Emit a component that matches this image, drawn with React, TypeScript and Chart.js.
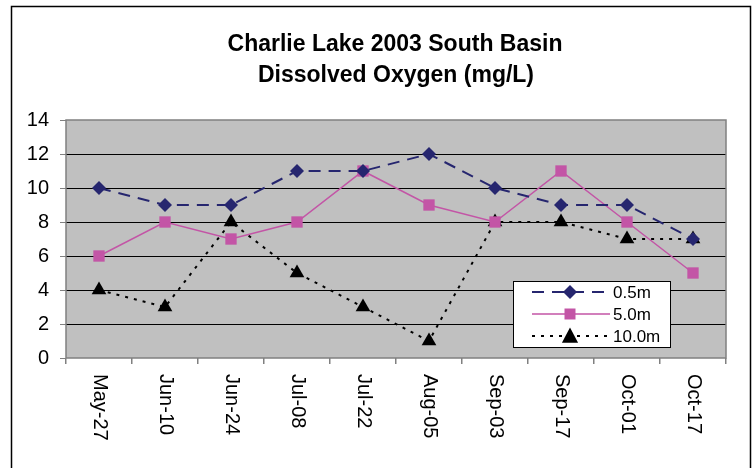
import React, { useEffect, useRef } from "react";
import { Chart, registerables } from "chart.js";

Chart.register(...registerables);

const categories = ["May-27", "Jun-10", "Jun-24", "Jul-08", "Jul-22", "Aug-05", "Sep-03", "Sep-17", "Oct-01", "Oct-17"];
const series05 = [10, 9, 9, 11, 11, 12, 10, 9, 9, 7];
const series50 = [6, 8, 7, 8, 11, 9, 8, 11, 8, 5];
const series100 = [4, 3, 8, 5, 3, 1, 8, 8, 7, 7];
const seriesNames = ["0.5m", "5.0m", "10.0m"];
const titleLines = ["Charlie Lake 2003 South Basin", "Dissolved Oxygen (mg/L)"];
const yMin = 0;
const yMax = 14;
const yStep = 2;

const NAVY = "#26266f";
const PINK = "#c355a6";
const FONT = "'Liberation Sans', Arial, sans-serif";

function drawMarker(ctx: CanvasRenderingContext2D, kind: string, x: number, y: number, r: number, color: string) {
  ctx.save();
  ctx.setLineDash([]);
  ctx.fillStyle = color;
  ctx.beginPath();
  if (kind === "diamond") {
    ctx.moveTo(x, y - r);
    ctx.lineTo(x + r, y);
    ctx.lineTo(x, y + r);
    ctx.lineTo(x - r, y);
  } else if (kind === "square") {
    ctx.rect(x - r, y - r, 2 * r, 2 * r);
  } else {
    ctx.moveTo(x, y - r);
    ctx.lineTo(x + r * 0.95, y + r * 0.8);
    ctx.lineTo(x - r * 0.95, y + r * 0.8);
  }
  ctx.closePath();
  ctx.fill();
  ctx.restore();
}

const decorPlugin = {
  id: "decor",
  beforeDraw(chart: any) {
    const { ctx, chartArea } = chart;
    ctx.save();
    ctx.fillStyle = "#ffffff";
    ctx.fillRect(0, 0, chart.width, chart.height);
    ctx.strokeStyle = "#000000";
    ctx.lineWidth = 1.5;
    ctx.strokeRect(11.5, 6.5, 739, 480);
    ctx.fillStyle = "#c0c0c0";
    ctx.fillRect(chartArea.left, chartArea.top, chartArea.right - chartArea.left, chartArea.bottom - chartArea.top);
    ctx.restore();
  },
  beforeDatasetsDraw(chart: any) {
    const { ctx, chartArea } = chart;
    ctx.save();
    ctx.strokeStyle = "#808080";
    ctx.lineWidth = 1.5;
    ctx.strokeRect(chartArea.left, chartArea.top, chartArea.right - chartArea.left, chartArea.bottom - chartArea.top);
    ctx.restore();
  },
  afterDraw(chart: any) {
    const { ctx } = chart;
    const xScale = chart.scales.x;
    ctx.save();
    // title
    ctx.fillStyle = "#000000";
    ctx.font = `bold 23px ${FONT}`;
    ctx.textAlign = "center";
    ctx.textBaseline = "middle";
    ctx.fillText(titleLines[0], 395, 45);
    ctx.fillText(titleLines[1], 396, 76);
    // x labels rotated clockwise
    ctx.font = `20px ${FONT}`;
    ctx.textAlign = "left";
    ctx.textBaseline = "middle";
    categories.forEach((c, i) => {
      const x = xScale.getPixelForValue(i);
      ctx.save();
      ctx.translate(x + 1, 374);
      ctx.rotate(Math.PI / 2);
      ctx.fillText(c, 0, 0);
      ctx.restore();
    });
    // legend
    const bx = 513, by = 281, bw = 157, bh = 66;
    ctx.fillStyle = "#ffffff";
    ctx.fillRect(bx, by, bw, bh);
    ctx.strokeStyle = "#000000";
    ctx.lineWidth = 1;
    ctx.strokeRect(bx + 0.5, by + 0.5, bw, bh);
    const rows = [
      { y: 292, color: NAVY, dash: [12, 8], width: 2, kind: "diamond", r: 7 },
      { y: 314, color: PINK, dash: [], width: 1.5, kind: "square", r: 5.5 },
      { y: 336, color: "#000000", dash: [3, 6], width: 2, kind: "triangle", r: 8.5 },
    ];
    rows.forEach((row, i) => {
      ctx.save();
      ctx.strokeStyle = row.color;
      ctx.lineWidth = row.width;
      ctx.setLineDash(row.dash);
      ctx.beginPath();
      ctx.moveTo(532, row.y);
      ctx.lineTo(610, row.y);
      ctx.stroke();
      ctx.restore();
      drawMarker(ctx, row.kind, 570, row.y, row.r, row.color);
      ctx.fillStyle = "#000000";
      ctx.font = `17px ${FONT}`;
      ctx.textAlign = "left";
      ctx.textBaseline = "middle";
      ctx.fillText(seriesNames[i], 613, row.y + 1);
    });
    ctx.restore();
  },
};

export default function App() {
  const ref = useRef<HTMLCanvasElement | null>(null);
  useEffect(() => {
    document.body.style.margin = "0";
    const canvas = ref.current!;
    const chart = new Chart(canvas, {
      type: "line",
      data: {
        labels: categories,
        datasets: [
          {
            label: seriesNames[0],
            data: series05,
            borderColor: NAVY,
            backgroundColor: NAVY,
            borderWidth: 2,
            borderDash: [12, 8],
            pointStyle: "rectRot",
            pointRadius: 7,
            pointBorderWidth: 0,
            tension: 0,
          },
          {
            label: seriesNames[1],
            data: series50,
            borderColor: PINK,
            backgroundColor: PINK,
            borderWidth: 1.5,
            pointStyle: "rect",
            pointRadius: 8,
            pointBorderWidth: 0,
            tension: 0,
          },
          {
            label: seriesNames[2],
            data: series100,
            borderColor: "#000000",
            backgroundColor: "#000000",
            borderWidth: 2,
            borderDash: [3, 6],
            pointStyle: "triangle",
            pointRadius: 8.5,
            pointBorderWidth: 0,
            tension: 0,
          },
        ],
      },
      options: {
        animation: false,
        responsive: false,
        devicePixelRatio: 1,
        layout: { padding: { left: 16, top: 120, right: 27, bottom: 0 } },
        plugins: { legend: { display: false }, title: { display: false }, tooltip: { enabled: false } },
        scales: {
          x: {
            type: "category",
            offset: true,
            grid: { display: true, offset: true, drawOnChartArea: false, drawTicks: true, tickLength: 6, color: "#808080", lineWidth: 1.5 },
            border: { display: false },
            ticks: { display: false },
            afterFit: (s: any) => { s.height = 110; },
          },
          y: {
            min: yMin,
            max: yMax,
            ticks: { stepSize: yStep, color: "#000000", font: { size: 20, family: FONT }, padding: 11 },
            grid: {
              color: (c: any) => (c.tick && (c.tick.value === yMin || c.tick.value === yMax) ? "rgba(0,0,0,0)" : "#000000"),
              tickColor: "#808080",
              tickLength: 6,
              lineWidth: 1,
            },
            border: { display: false },
            afterFit: (s: any) => { s.width = 50; },
          },
        },
      },
      plugins: [decorPlugin],
    });
    return () => chart.destroy();
  }, []);
  return (
    <canvas ref={ref} width={753} height={468} style={{ position: "fixed", left: 0, top: 0, width: 753, height: 468 }} />
  );
}
